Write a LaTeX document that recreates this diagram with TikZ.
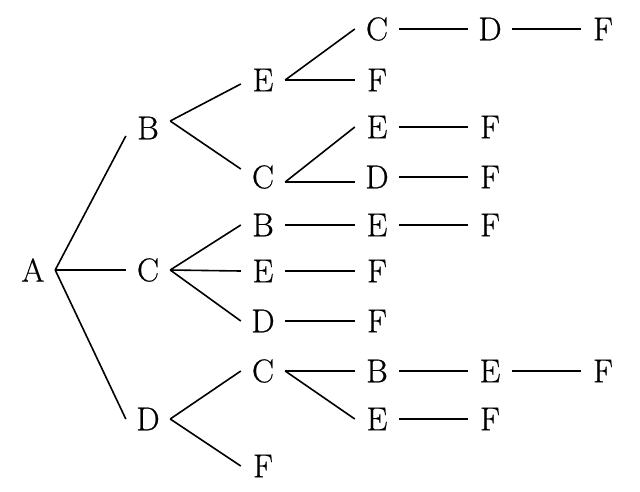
\documentclass[tikz,border=0pt]{standalone}
\usepackage{fontspec}
\newfontfamily\lblfont{Latin Modern Roman}[FakeBold=0.6]
\begin{document}
\begin{tikzpicture}[x=1pt,y=-1pt,
  lbl/.style={inner sep=0pt,minimum width=44pt,minimum height=30pt,font=\lblfont\fontsize{33}{38}\selectfont},
  edge/.style={line width=1.6pt}]
\useasboundingbox (0,0) rectangle (640,491);
% columns
\def\ca{33}\def\cb{148}\def\cc{263}\def\cd{377}\def\ce{490}\def\cf{603}
\node[lbl] (A) at (\ca,270) {A};
\node[lbl] (B1) at (\cb,128) {B};
\node[lbl] (C1) at (\cb,270) {C};
\node[lbl] (D1) at (\cb,419) {D};
% B subtree
\node[lbl] (E2) at (\cc,80) {E};
\node[lbl] (C2) at (\cc,177) {C};
\node[lbl] (C3) at (\cd,29) {C};
\node[lbl] (D4) at (\ce,29) {D};
\node[lbl] (F5) at (\cf,29) {F};
\node[lbl] (F3) at (\cd,80) {F};
\node[lbl] (E3) at (\cd,127) {E};
\node[lbl] (F4a) at (\ce,127) {F};
\node[lbl] (D3) at (\cd,177) {D};
\node[lbl] (F4b) at (\ce,177) {F};
% C subtree
\node[lbl] (B2) at (\cc,225) {B};
\node[lbl] (E3b) at (\cd,225) {E};
\node[lbl] (F4c) at (\ce,225) {F};
\node[lbl] (E2b) at (\cc,271) {E};
\node[lbl] (F3b) at (\cd,271) {F};
\node[lbl] (D2) at (\cc,321) {D};
\node[lbl] (F3c) at (\cd,321) {F};
% D subtree
\node[lbl] (C2b) at (\cc,371) {C};
\node[lbl] (B3) at (\cd,371) {B};
\node[lbl] (E4) at (\ce,371) {E};
\node[lbl] (F5b) at (\cf,371) {F};
\node[lbl] (E3c) at (\cd,419) {E};
\node[lbl] (F4d) at (\ce,419) {F};
\node[lbl] (F2) at (\cc,466) {F};
% edges
\foreach \p/\c in {A/C1,A/D1,
  E2/C3,C3/D4,D4/F5,E2/F3,E3/F4a,D3/F4b,
  C1/B2,B2/E3b,E3b/F4c,C1/E2b,E2b/F3b,C1/D2,D2/F3c,
  D1/C2b,C2b/B3,B3/E4,E4/F5b,C2b/E3c,E3c/F4d,D1/F2}
  \draw[edge] (\p.east) -- (\c.west);
\draw[edge] (A.east) -- ([yshift=-8pt]B1.west);
\draw[edge] ([yshift=7pt]B1.east) -- ([yshift=-4pt]E2.west);
\draw[edge] ([yshift=7pt]B1.east) -- ([yshift=8pt]C2.west);
\draw[edge] ([yshift=-5pt]C2.east) -- (E3.west);
\draw[edge] ([yshift=-5pt]C2.east) -- ([yshift=-5pt]D3.west);
\end{tikzpicture}
\end{document}
